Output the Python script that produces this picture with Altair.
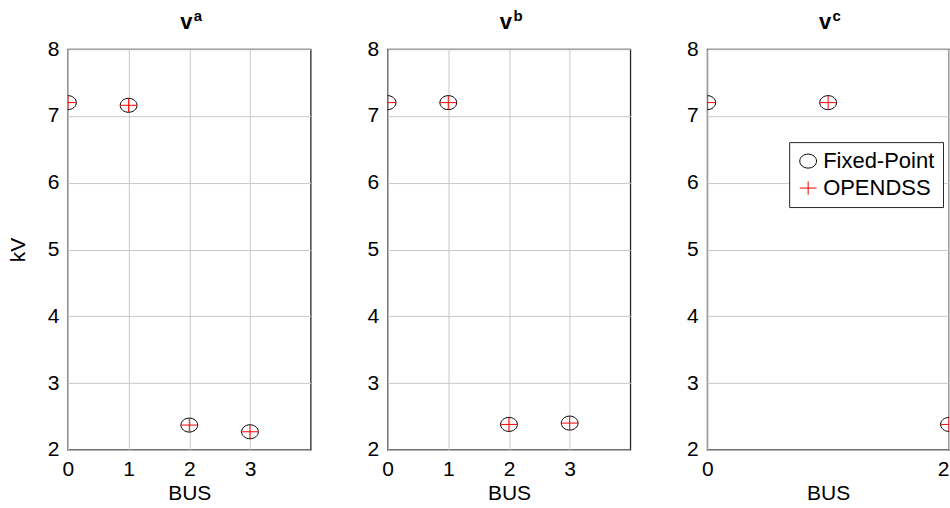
import altair as alt
import pandas as pd

# Bus voltages (kV) per phase, two solvers
buses_a = [0, 1, 2, 3]
fixed_a = [7.20, 7.16, 2.37, 2.27]
dss_a = [7.20, 7.16, 2.37, 2.27]

buses_b = [0, 1, 2, 3]
fixed_b = [7.20, 7.20, 2.38, 2.40]
dss_b = [7.20, 7.20, 2.38, 2.40]

buses_c = [0, 1, 2]
fixed_c = [7.20, 7.20, 2.38]
dss_c = [7.20, 7.20, 2.38]

methods = ["Fixed-Point", "OPENDSS"]
y_ticks = [2, 3, 4, 5, 6, 7, 8]

# Open ellipse and thin plus as custom symbol paths
ELLIPSE = "M -1.2 0 A 1.2 1 0 1 0 1.2 0 A 1.2 1 0 1 0 -1.2 0 Z"
PLUS = "M -1.2 0 L 1.2 0 M 0 -0.95 L 0 0.95"

FONT = "Liberation Sans"
W, H = 243, 401


def frame(buses, fixed, dss):
    rows = [{"bus": b, "v": v, "method": methods[0]} for b, v in zip(buses, fixed)]
    rows += [{"bus": b, "v": v, "method": methods[1]} for b, v in zip(buses, dss)]
    return pd.DataFrame(rows)


def heading(base, sup, width):
    # bold "v" with a raised phase letter
    v = (
        alt.Chart(pd.DataFrame({"t": [base]}))
        .mark_text(font=FONT, fontSize=22, fontWeight="bold", align="center", baseline="alphabetic", color="black")
        .encode(text="t:N", x=alt.value(width / 2 - 3), y=alt.value(-20))
    )
    s = (
        alt.Chart(pd.DataFrame({"t": [sup]}))
        .mark_text(font=FONT, fontSize=15, fontWeight="bold", align="left", baseline="alphabetic", color="black")
        .encode(text="t:N", x=alt.value(width / 2 + 4.5), y=alt.value(-28))
    )
    return v, s


def panel(df, sup, x_max, x_ticks, y_title, legend, width):
    shape_scale = alt.Scale(domain=methods, range=[ELLIPSE, PLUS])
    stroke_scale = alt.Scale(domain=methods, range=["#000000", "#ff0000"])
    if legend:
        leg = alt.Legend(
            title=None,
            orient="none",
            legendX=82,
            legendY=93,
            fillColor="white",
            strokeColor="#262626",
            padding=8,
            symbolSize=196,
            symbolStrokeWidth=1,
            labelFont=FONT,
            labelFontSize=22,
            labelColor="black",
            labelOffset=4,
            rowPadding=5,
            labelLimit=300,
        )
    else:
        leg = None
    # the tick label sitting on the right edge is kept inside the frame
    x_align = {"condition": {"test": f"datum.value >= {x_max}", "value": "right"}, "value": "center"}
    pts = (
        alt.Chart(df)
        .mark_point(filled=False, size=196, strokeWidth=1, clip=True, opacity=1)
        .encode(
            x=alt.X(
                "bus:Q",
                scale=alt.Scale(domain=[0, x_max], nice=False, zero=False),
                axis=alt.Axis(values=x_ticks, title="BUS", format="d", labelFlush=False, labelAlign=x_align),
            ),
            y=alt.Y(
                "v:Q",
                scale=alt.Scale(domain=[2, 8], nice=False, zero=False),
                axis=alt.Axis(values=y_ticks, title=y_title if y_title else None, format="d", labelFlush=False),
            ),
            shape=alt.Shape("method:N", scale=shape_scale, legend=leg),
            stroke=alt.Stroke("method:N", scale=stroke_scale, legend=leg),
        )
    )
    v, s = heading("v", sup, width)
    return alt.layer(pts, v, s).properties(width=width, height=H)


p1 = panel(frame(buses_a, fixed_a, dss_a), "a", 4, [0, 1, 2, 3], "kV", False, W)
p2 = panel(frame(buses_b, fixed_b, dss_b), "b", 4, [0, 1, 2, 3], None, False, W)
p3 = panel(frame(buses_c, fixed_c, dss_c), "c", 2, [0, 1, 2], None, True, 242)

chart = (
    alt.hconcat(p1, p2, p3, spacing=54)
    .resolve_scale(shape="independent", stroke="independent")
    .resolve_legend(shape="independent", stroke="independent")
    .properties(padding={"left": 6, "top": 8, "right": 0, "bottom": 0}, background="white")
    .configure_view(stroke="#262626", strokeWidth=1.3)
    .configure_axis(
        domain=False,
        ticks=False,
        grid=True,
        gridColor="#c8c8c8",
        gridWidth=1,
        labelFont=FONT,
        labelFontSize=21,
        labelColor="black",
        labelPadding=9,
        titleFont=FONT,
        titleFontSize=21,
        titleFontWeight="normal",
        titleColor="black",
    )
    .configure_axisX(labelPadding=9, titlePadding=3)
    .configure_axisY(titlePadding=19)
)

chart.save("out.html", embed_options={"renderer": "svg", "actions": False})
